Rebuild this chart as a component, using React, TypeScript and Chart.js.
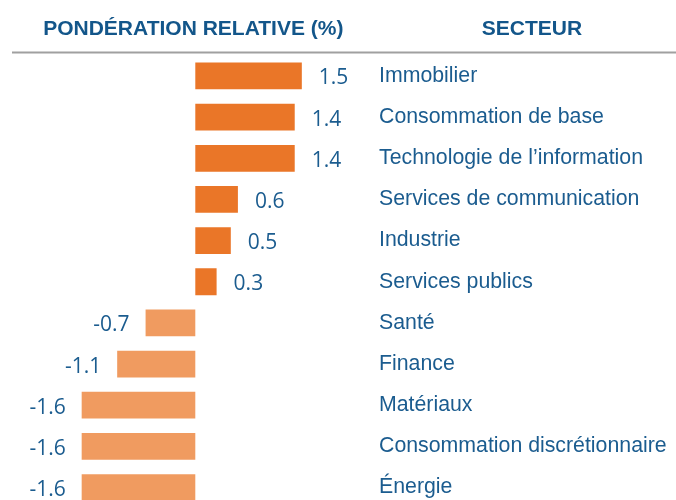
import React, { useEffect, useRef } from "react";
import { Chart, registerables } from "chart.js";

Chart.register(...registerables);

const sectors = [
  "Immobilier",
  "Consommation de base",
  "Technologie de l’information",
  "Services de communication",
  "Industrie",
  "Services publics",
  "Santé",
  "Finance",
  "Matériaux",
  "Consommation discrétionnaire",
  "Énergie",
];

const weights = [1.5, 1.4, 1.4, 0.6, 0.5, 0.3, -0.7, -1.1, -1.6, -1.6, -1.6];

const headerLeft = "PONDÉRATION RELATIVE (%)";
const headerRight = "SECTEUR";

const POS_COLOR = "#EA7628";
const NEG_COLOR = "#F09B60";
const TEXT_COLOR = "#1B5C8F";
const HEAD_COLOR = "#13568A";

export default function App() {
  const ref = useRef<HTMLCanvasElement | null>(null);

  useEffect(() => {
    document.body.style.margin = "0";
    document.body.style.overflow = "hidden";
    const canvas = ref.current;
    if (!canvas) return;

    const overlay = {
      id: "overlay",
      afterDraw(chart: any) {
        const ctx = chart.ctx;
        const xs = chart.scales.x;
        ctx.save();
        // headers
        ctx.fillStyle = HEAD_COLOR;
        ctx.font = "bold 21px 'Liberation Sans', Arial, sans-serif";
        ctx.textBaseline = "middle";
        ctx.textAlign = "center";
        ctx.fillText(headerLeft, xs.getPixelForValue(0) - 2, 29);
        ctx.fillText(headerRight, 532, 29);
        // rule
        ctx.strokeStyle = "#A0A0A0";
        ctx.lineWidth = 2;
        ctx.beginPath();
        ctx.moveTo(12, 52.5);
        ctx.lineTo(676, 52.5);
        ctx.stroke();
        // value labels
        const meta = chart.getDatasetMeta(0);
        ctx.fillStyle = TEXT_COLOR;
        ctx.font = "21px 'Open Sans', sans-serif";
        meta.data.forEach((bar: any, i: number) => {
          const v = weights[i];
          const txt = v.toFixed(1);
          if (v >= 0) {
            ctx.textAlign = "left";
            ctx.fillText(txt, bar.x + 17, bar.y + 2.5);
          } else {
            ctx.textAlign = "right";
            ctx.fillText(txt, bar.x - 16, bar.y + 2.5);
          }
        });
        ctx.restore();
      },
    };

    const chart = new Chart(canvas, {
      type: "bar",
      data: {
        labels: sectors,
        datasets: [
          {
            data: weights,
            backgroundColor: weights.map((v) => (v >= 0 ? POS_COLOR : NEG_COLOR)),
            borderWidth: 0,
            categoryPercentage: 1,
            barPercentage: 0.65,
          },
        ],
      },
      options: {
        indexAxis: "y",
        animation: false,
        responsive: false,
        maintainAspectRatio: false,
        layout: { padding: { top: 55.4, bottom: 11.9, left: 0, right: 0 } },
        plugins: {
          legend: { display: false },
          tooltip: { enabled: false },
        },
        scales: {
          x: {
            display: false,
            min: -2.75,
            max: 2.46,
          },
          y: {
            position: "right",
            grid: { display: false, drawTicks: false },
            border: { display: false },
            ticks: {
              color: TEXT_COLOR,
              padding: 9,
              font: { family: "'Liberation Sans', Arial, sans-serif", size: 21.3 },
              autoSkip: false,
            },
            afterFit(scale: any) {
              scale.width = 306;
              scale.paddingTop = 0;
              scale.paddingBottom = 0;
            },
          },
        },
      },
      plugins: [overlay],
    });

    return () => chart.destroy();
  }, []);

  return (
    <div style={{ width: 676, height: 500, overflow: "hidden", position: "relative" }}>
      <canvas ref={ref} width={676} height={520} style={{ display: "block" }} />
    </div>
  );
}
